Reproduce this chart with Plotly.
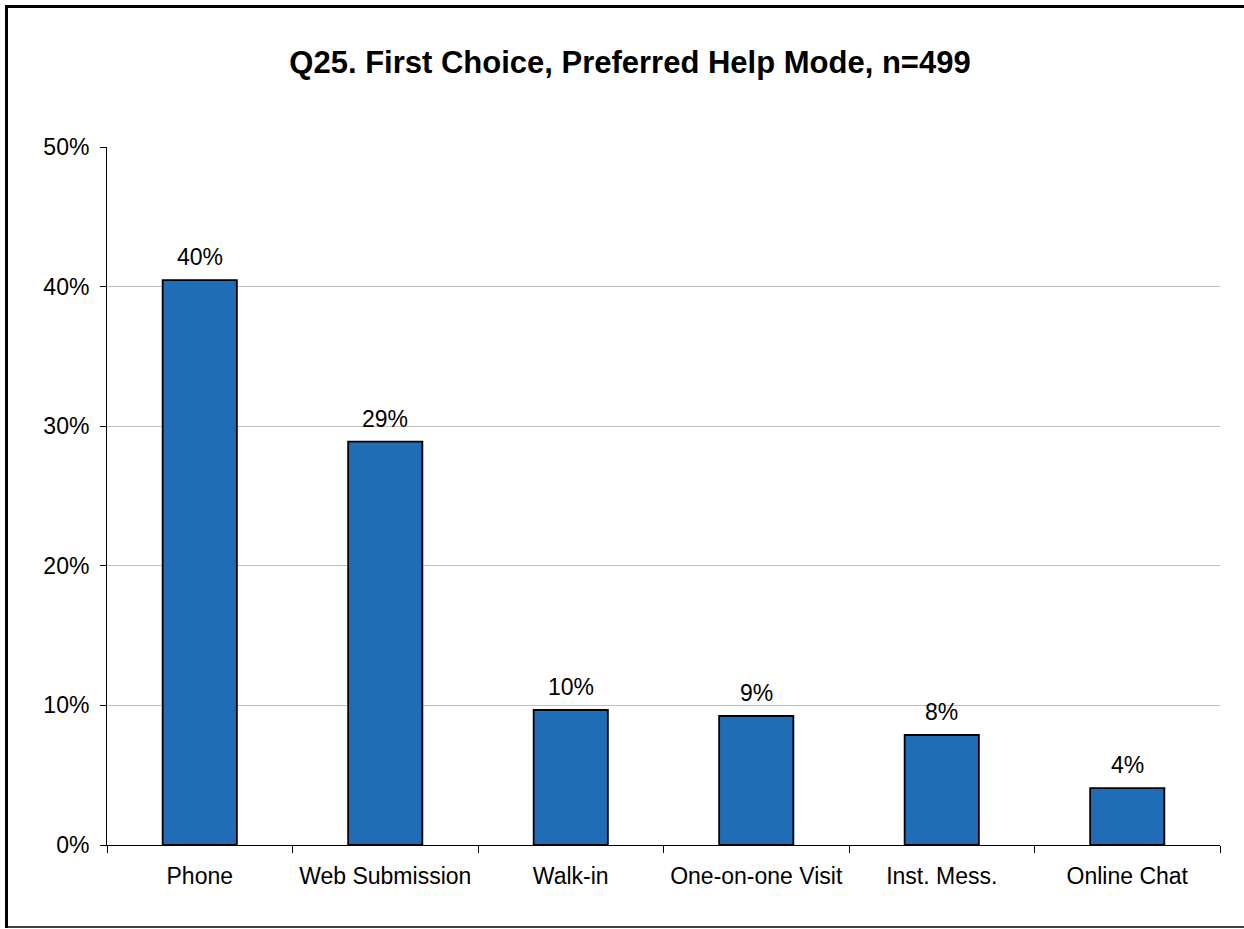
import plotly.graph_objects as go

categories = ["Phone", "Web Submission", "Walk-in", "One-on-one Visit", "Inst. Mess.", "Online Chat"]
values = [0.4047, 0.289, 0.0967, 0.0924, 0.0788, 0.0408]
labels = ["40%", "29%", "10%", "9%", "8%", "4%"]
title_text = "Q25. First Choice, Preferred Help Mode, n=499"

W, H = 1244, 929
L, R, T, B = 107, 24, 147, 84
pw, ph = W - L - R, H - T - B

FONT = "Liberation Sans, Arial, sans-serif"

fig = go.Figure()
fig.add_trace(go.Bar(
    x=categories, y=values, width=0.4,
    marker=dict(color="#1f6db5", line=dict(color="#000000", width=1.8)),
    hoverinfo="skip",
))

for c, v, t in zip(categories, values, labels):
    fig.add_annotation(x=c, y=v, text=t, showarrow=False, yanchor="bottom",
                       yshift=8, font=dict(family=FONT, size=23, color="#000000"))

def px_x(p):
    return (p - L) / pw

def px_y(p):
    return (H - B - p) / ph

shapes = [
    dict(type="line", xref="paper", yref="paper", x0=px_x(6.5), x1=px_x(6.5), y0=px_y(928), y1=px_y(5), line=dict(color="black", width=3)),
    dict(type="line", xref="paper", yref="paper", x0=px_x(5), x1=px_x(1260), y0=px_y(6.5), y1=px_y(6.5), line=dict(color="black", width=3)),
    dict(type="line", xref="paper", yref="paper", x0=px_x(5), x1=px_x(1260), y0=px_y(927), y1=px_y(927), line=dict(color="black", width=1.5)),
]

fig.update_layout(
    width=W, height=H,
    margin=dict(l=L, r=R, t=T, b=B, autoexpand=False),
    paper_bgcolor="white", plot_bgcolor="white",
    font=dict(family=FONT, size=23, color="#000000"),
    title=dict(text="<b>" + title_text + "</b>", x=630 / W, xanchor="center", y=1 - 62 / H,
               yanchor="middle", xref="container", yref="container",
               font=dict(family=FONT, size=31, color="#000000")),
    showlegend=False,
    shapes=shapes,
    bargap=0.6,
)
fig.update_xaxes(showline=True, linecolor="black", linewidth=1, ticks="outside", tickson="boundaries",
                 ticklen=7, tickcolor="black", showgrid=False, tickfont=dict(size=23),
                 ticklabelstandoff=10)
fig.update_yaxes(range=[0, 0.5], dtick=0.1, tickformat=".0%", showline=True, linecolor="black", linewidth=1,
                 ticks="outside", ticklen=6, tickcolor="black", showgrid=True, gridcolor="#bfbfbf",
                 gridwidth=1, zeroline=False, tickfont=dict(size=23), ticklabelstandoff=6)

fig.write_html("out.html", config={"displayModeBar": False},
               post_script="document.body.style.margin='0';document.body.style.overflow='hidden';")
